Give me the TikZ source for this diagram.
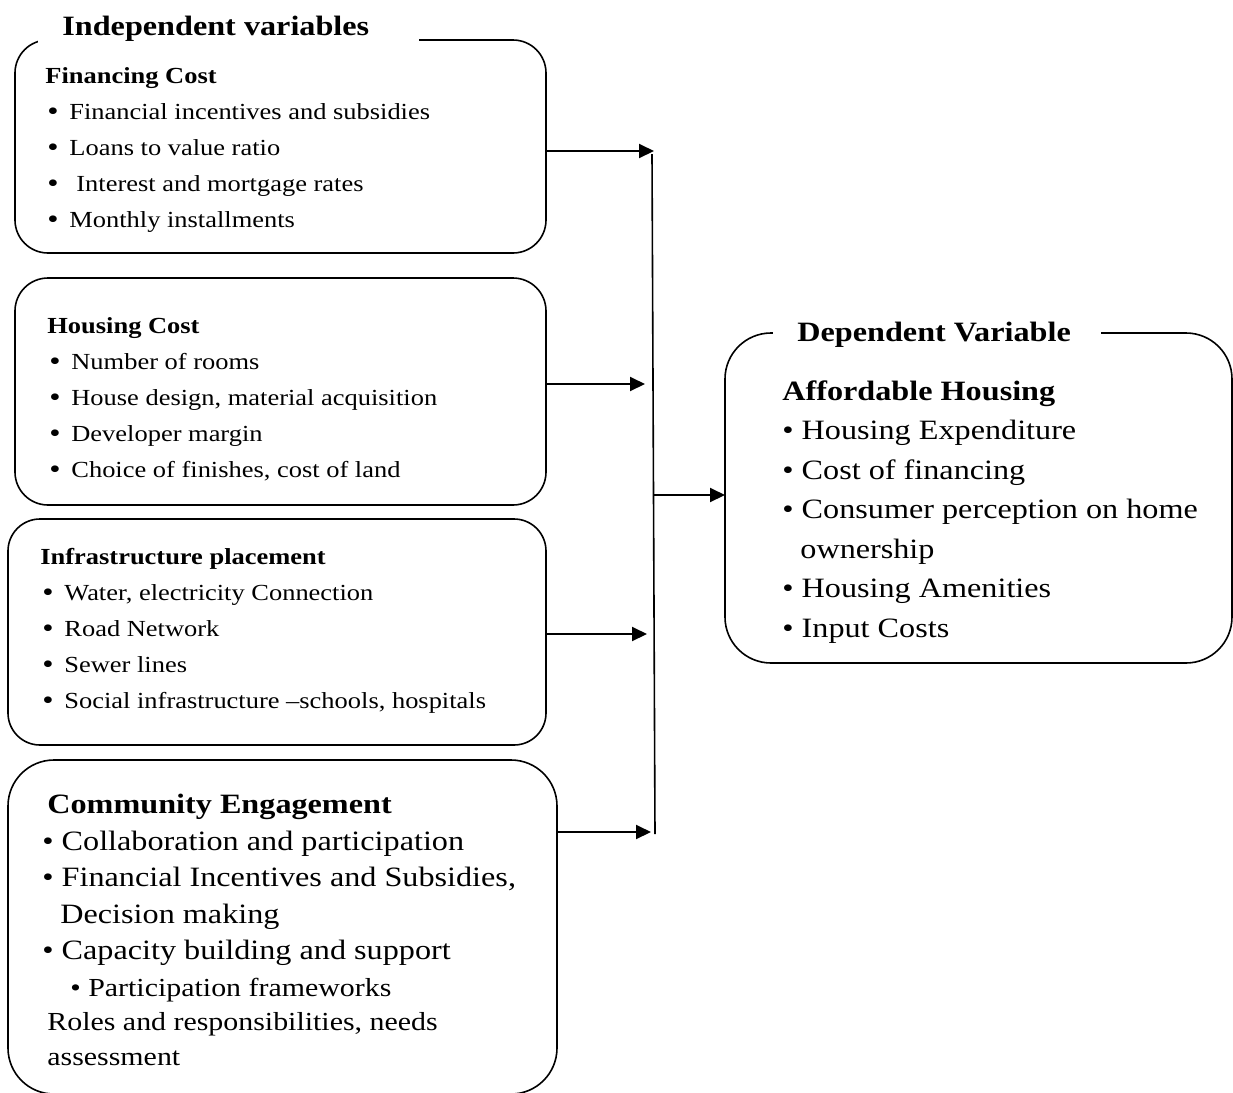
\documentclass[tikz,border=0pt]{standalone}
\usepackage{fontspec}
\setmainfont{Liberation Serif}[FakeStretch=1.15]
\usepackage{tikz}
\usetikzlibrary{positioning, arrows.meta}
\newcommand{\blt}{\hspace*{1pt}\makebox[11pt][l]{\raisebox{-0.6pt}{\fontsize{14pt}{14pt}\selectfont•}}}

\begin{document}
\begin{tikzpicture}[
        x=0.5pt, y=-0.5pt,
        box/.style={draw, line width=0.8pt, inner sep=0pt, outer sep=0pt},
        smalltxt/.style={anchor=base west, align=left, inner sep=0pt, font={\fontsize{11.5pt}{18pt}\selectfont}},
        bigtxt/.style={anchor=base west, align=left, inner sep=0pt, font={\fontsize{14pt}{18.25pt}\selectfont}},
        heading/.style={anchor=base west, fill=white, inner xsep=12pt, inner ysep=2pt, font={\fontsize{14pt}{17pt}\selectfont\bfseries}},
        arrow/.style={-{Triangle[length=7.5pt, width=7pt]}, line width=1pt}
    ]
        \useasboundingbox (0,0) rectangle (1233,1093);

        % Boxes
        \node[box, rounded corners=16.5pt, minimum width=265.5pt, minimum height=106.5pt] (fin) at (280.5,146.5) {};
        \node[box, rounded corners=16.5pt, minimum width=265.5pt, minimum height=113.5pt] (hou) at (280.5,391.5) {};
        \node[box, rounded corners=16pt, minimum width=269pt, minimum height=113pt] (inf) at (277,632) {};
        \node[box, rounded corners=23pt, minimum width=274.5pt, minimum height=167pt] (eng) at (282.5,927) {};
        \node[box, rounded corners=23pt, minimum width=253.5pt, minimum height=165pt] (dep) at (978.5,498) {};

        % Headings
        \node[heading] (indep) at (38,35) {Independent variables\hspace*{13pt}};
        \node[heading] (depvar) at (773,341) {Dependent Variable\hspace*{3pt}};

        % Texts (placed at the baseline of their last line)
        \node[smalltxt] (fintxt) at (45,227) {\textbf{Financing Cost}\\
            \blt Financial incentives and subsidies\\
            \blt Loans to value ratio\\
            \blt\hspace*{3.5pt}Interest and mortgage rates\\
            \blt Monthly installments};
        \node[smalltxt] (houtxt) at (47,477) {\textbf{Housing Cost}\\
            \blt Number of rooms\\
            \blt House design, material acquisition\\
            \blt Developer margin\\
            \blt Choice of finishes, cost of land};
        \node[smalltxt] (inftxt) at (40,708) {\textbf{Infrastructure placement}\\
            \blt Water, electricity Connection\\
            \blt Road Network\\
            \blt Sewer lines\\
            \blt Social infrastructure –schools, hospitals};
        \node[bigtxt] (engtxt) at (42,1065) {\hspace*{2.5pt}\textbf{Community Engagement}\\
            • Collaboration and participation\\
            • Financial Incentives and Subsidies,\\
            \hspace*{9pt}Decision making\\
            • Capacity building and support\\
            \hspace*{14pt}{\fontsize{13pt}{18pt}\selectfont • Participation frameworks}\\[-1pt]
            \hspace*{2.5pt}{\fontsize{13pt}{18pt}\selectfont Roles and responsibilities, needs}\\[-1pt]
            \hspace*{2.5pt}{\fontsize{13pt}{18pt}\selectfont assessment}};
        \node[bigtxt, font={\fontsize{14pt}{19.75pt}\selectfont}] (deptxt) at (782,637) {\textbf{Affordable Housing}\\
            • Housing Expenditure\\
            • Cost of financing\\
            • Consumer perception on home\\
            \hspace*{9pt}ownership\\
            • Housing Amenities\\
            • Input Costs};

        % Bus line and arrow ends
        \coordinate (bustop) at (652,154);
        \coordinate (busbot) at (655,834);
        \coordinate (busmid) at (653.5,495);
        \coordinate (tip1) at (654,151);
        \coordinate (tip2) at (645,384);
        \coordinate (tip3) at (647,634);
        \coordinate (tip4) at (651,832);

        % Paths
        \draw[line width=0.8pt] (bustop) -- (busbot);
        \draw[arrow] (fin.east |- tip1) -- (tip1);
        \draw[arrow] (hou.east |- tip2) -- (tip2);
        \draw[arrow] (inf.east |- tip3) -- (tip3);
        \draw[arrow] (eng.east |- tip4) -- (tip4);
        \draw[arrow] (busmid) -- (dep.west |- busmid);

    \end{tikzpicture}
\end{document}
